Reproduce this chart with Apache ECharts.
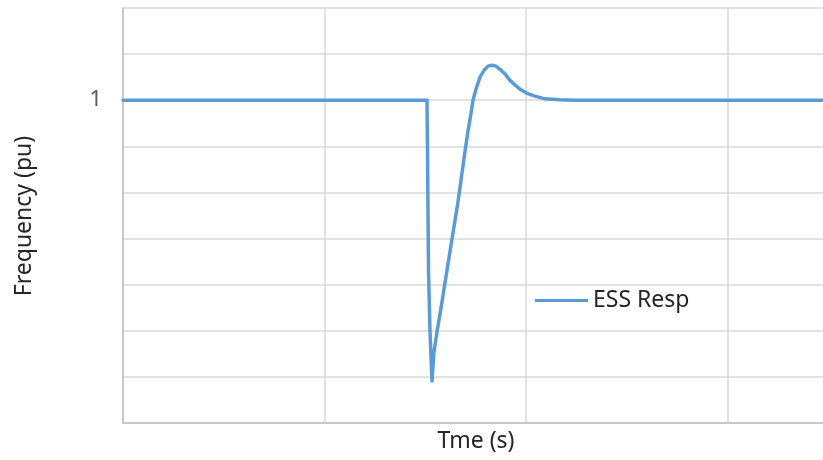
<!DOCTYPE html>
<html><head><meta charset="utf-8">
<script src="https://cdn.jsdelivr.net/npm/echarts@6/dist/echarts.min.js"></script>
<style>html,body{margin:0;padding:0;background:#fff;overflow:hidden;width:823px;height:460px}#c{width:930px;height:460px}</style>
</head><body><div id="c"></div>
<script>
const seriesName = 'ESS Resp';
const timeS = [0, 7.543, 7.556, 7.581, 7.618, 7.667, 7.717, 7.792, 7.916, 8.114, 8.313, 8.486, 8.561, 8.610, 8.685, 8.759, 8.859, 8.958, 9.057, 9.156, 9.256, 9.355, 9.479, 9.603, 9.727, 9.851, 10.025, 10.223, 10.471, 10.844, 11.216, 20];
const freqPu = [1.0, 1.0, 0.99889, 0.99628, 0.99498, 0.99391, 0.99454, 0.99498, 0.99563, 0.99672, 0.99780, 0.99889, 0.99933, 0.99958, 1.0, 1.00024, 1.00050, 1.00065, 1.00074, 1.00076, 1.00074, 1.00067, 1.00057, 1.00043, 1.00033, 1.00024, 1.00015, 1.00009, 1.00003, 1.00001, 1.0, 1.0];
const yLabels = ['1'];
const xTitle = 'Tme (s)';
const yTitle = 'Frequency (pu)';

const data = timeS.map((t, i) => [t, freqPu[i]]);
const chart = echarts.init(document.getElementById('c'), null, {renderer: 'canvas'});
const font = 'Noto Sans, sans-serif';
chart.setOption({
  animation: false,
  backgroundColor: '#ffffff',
  grid: {left: 123, top: 8, width: 806, height: 415, containLabel: false},
  legend: {
    data: [seriesName], left: 530, top: 284, icon: 'rect', itemWidth: 53, itemHeight: 3,
    textStyle: {fontFamily: font, fontSize: 23, color: '#262626'}
  },
  xAxis: {
    type: 'value', min: 0, max: 20, interval: 5,
    axisLine: {show: true, lineStyle: {color: '#c8c8c8', width: 2}},
    axisTick: {show: false}, axisLabel: {show: false},
    splitLine: {show: true, lineStyle: {color: '#d9d9d9', width: 1.5}}
  },
  yAxis: {
    type: 'value', min: 0.993, max: 1.002, interval: 0.001,
    axisLine: {show: true, lineStyle: {color: '#c8c8c8', width: 2}},
    axisTick: {show: false},
    axisLabel: {
      show: true, margin: 21, fontFamily: font, fontSize: 22, color: '#595959',
      formatter: v => (Math.abs(v - 1) < 1e-7 ? yLabels[0] : '')
    },
    splitLine: {show: true, lineStyle: {color: '#d9d9d9', width: 1.5}}
  },
  graphic: [
    {type: 'text', x: 476, y: 441, style: {text: xTitle, font: '23px Noto Sans', fill: '#262626', align: 'center', verticalAlign: 'middle'}},
    {type: 'text', x: 24, y: 216, rotation: Math.PI / 2, style: {text: yTitle, font: '23px Noto Sans', fill: '#262626', align: 'center', verticalAlign: 'middle'}}
  ],
  series: [{
    name: seriesName, type: 'line', data: data, showSymbol: false, smooth: false,
    lineStyle: {color: '#5b9bd5', width: 3.5, join: 'round', cap: 'round'}, itemStyle: {color: '#5b9bd5'}
  }]
});
</script></body></html>
